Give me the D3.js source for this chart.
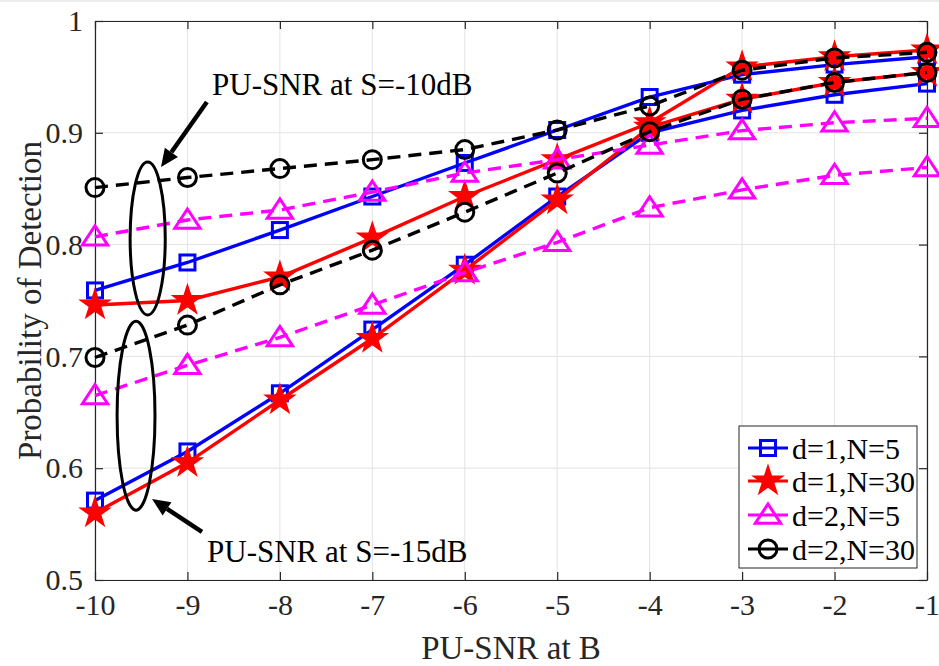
<!DOCTYPE html>
<html><head><meta charset="utf-8">
<script src="https://cdn.jsdelivr.net/npm/d3@7"></script>
<style>body{margin:0;background:#fff}svg{display:block}</style>
</head><body>
<script>
const xTicks = [-10,-9,-8,-7,-6,-5,-4,-3,-2,-1];
const yTicks = [0.5,0.6,0.7,0.8,0.9,1];
const yTickLabels = ["0.5","0.6","0.7","0.8","0.9","1"];
const snr = [-10,-9,-8,-7,-6,-5,-4,-3,-2,-1];
// S=-10dB (upper group)
const d1N5_S10  = [0.759,0.784,0.813,0.843,0.873,0.9025,0.932,0.952,0.961,0.968];
const d1N30_S10 = [0.746,0.750,0.771,0.806,0.843,0.876,0.909,0.959,0.968,0.974];
const d2N5_S10  = [0.807,0.822,0.831,0.847,0.864,0.876,0.889,0.902,0.909,0.913];
const d2N30_S10 = [0.851,0.860,0.868,0.876,0.885,0.9025,0.924,0.956,0.967,0.972];
// S=-15dB (lower group)
const d1N5_S15  = [0.571,0.615,0.667,0.724,0.782,0.843,0.900,0.920,0.934,0.944];
const d1N30_S15 = [0.560,0.605,0.661,0.716,0.777,0.840,0.905,0.930,0.945,0.954];
const d2N5_S15  = [0.665,0.692,0.717,0.746,0.775,0.802,0.833,0.849,0.862,0.869];
const d2N30_S15 = [0.699,0.728,0.764,0.795,0.829,0.864,0.901,0.930,0.945,0.954];
const seriesNames = ["d=1,N=5","d=1,N=30","d=2,N=5","d=2,N=30"];
const xLabel = "PU-SNR at B";
const yLabel = "Probability of Detection";
const annText = ["PU-SNR at S=-10dB","PU-SNR at S=-15dB"];

const W=939,H=666;
const m={left:95,right:939-927,top:21,bottom:666-580};
const svg=d3.select("body").append("svg").attr("width",W).attr("height",H)
  .style("font-family","'Liberation Serif','Times New Roman',serif");
svg.append("rect").attr("x",0).attr("y",0).attr("width",W).attr("height",2).attr("fill","#ececec");
const x=d3.scaleLinear().domain([-10,-1]).range([m.left,W-m.right]);
const y=d3.scaleLinear().domain([0.5,1]).range([H-m.bottom,m.top]);
const axCol="#262626";
const g=svg.append("g");
// grid
g.selectAll(".gx").data(xTicks).join("line").attr("x1",d=>x(d)).attr("x2",d=>x(d))
  .attr("y1",y(0.5)).attr("y2",y(1)).attr("stroke","#e3e3e3").attr("stroke-width",1);
g.selectAll(".gy").data(yTicks).join("line").attr("y1",d=>y(d)).attr("y2",d=>y(d))
  .attr("x1",x(-10)).attr("x2",x(-1)).attr("stroke","#e3e3e3").attr("stroke-width",1);

// axes
const fs=30;
const xb=svg.append("g").attr("transform",`translate(0,${y(0.5)})`)
  .call(d3.axisBottom(x).tickValues(xTicks).tickSize(-8).tickSizeOuter(0).tickPadding(14).tickFormat(d=>String(d)));
const xt=svg.append("g").attr("transform",`translate(0,${y(1)})`)
  .call(d3.axisTop(x).tickValues(xTicks).tickSize(-8).tickSizeOuter(0).tickFormat(""));
const yl=svg.append("g").attr("transform",`translate(${x(-10)},0)`)
  .call(d3.axisLeft(y).tickValues(yTicks).tickSize(-8).tickSizeOuter(0).tickPadding(12).tickFormat((d,i)=>yTickLabels[i]));
const yr=svg.append("g").attr("transform",`translate(${x(-1)},0)`)
  .call(d3.axisRight(y).tickValues(yTicks).tickSize(-8).tickSizeOuter(0).tickFormat(""));
[xb,xt,yl,yr].forEach(a=>{
  a.selectAll("path").attr("stroke",axCol).attr("stroke-width",1.2);
  a.selectAll("line").attr("stroke",axCol).attr("stroke-width",1.2);
  a.selectAll("text").attr("fill",axCol).style("font-size",fs+"px").style("font-family","'Liberation Serif',serif");
});
xb.selectAll("text").attr("dy","0.71em");

// series
const star=d3.symbol().type(d3.symbolStar).size(260);
const tri=(r)=>`M0,${-r*1.0}L${r*1.15},${r*0.75}L${-r*1.15},${r*0.75}Z`;
const styles=[
  {col:"#0000ff",dash:null,mk:"square"},
  {col:"#ff0000",dash:null,mk:"star"},
  {col:"#ff00ff",dash:"13,8",mk:"tri"},
  {col:"#000000",dash:"13,8",mk:"circle"}
];
const groups=[[d1N5_S10,d1N5_S15],[d1N30_S10,d1N30_S15],[d2N5_S10,d2N5_S15],[d2N30_S10,d2N30_S15]];
const line=d3.line().x((d,i)=>x(snr[i])).y(d=>y(d));
function drawMarker(sel,st){
  if(st.mk==="square"){
    sel.append("rect").attr("x",-7.5).attr("y",-7.5).attr("width",15).attr("height",15)
      .attr("fill","none").attr("stroke",st.col).attr("stroke-width",3);
  }else if(st.mk==="star"){
    sel.append("path").attr("d",star).attr("fill",st.col).attr("stroke",st.col).attr("stroke-width",1.5);
  }else if(st.mk==="tri"){
    sel.append("path").attr("d",tri(11)).attr("fill","none").attr("stroke",st.col).attr("stroke-width",3);
  }else{
    sel.append("circle").attr("r",9).attr("fill","none").attr("stroke",st.col).attr("stroke-width",3);
  }
}
groups.forEach((pair,k)=>{
  const st=styles[k];
  pair.forEach(vals=>{
    svg.append("path").datum(vals).attr("d",line).attr("fill","none")
      .attr("stroke",st.col).attr("stroke-width",3.4).attr("stroke-dasharray",st.dash);
    vals.forEach((v,i)=>{
      const mg=svg.append("g").attr("transform",`translate(${x(snr[i])},${y(v)})`);
      drawMarker(mg,st);
    });
  });
});

// annotations
const ellipses=[{cx:-9.43,cy:0.8055,rx:0.19,ry:0.0684},{cx:-9.556,cy:0.647,rx:0.205,ry:0.0845}];
ellipses.forEach(e=>{
  svg.append("ellipse").attr("cx",x(e.cx)).attr("cy",y(e.cy))
    .attr("rx",x(e.cx+e.rx)-x(e.cx)).attr("ry",y(e.cy-e.ry)-y(e.cy))
    .attr("fill","none").attr("stroke","#000").attr("stroke-width",3);
});
const arrows=[{x1:-8.79,y1:0.9275,x2:-9.286,y2:0.8694},{x1:-8.843,y1:0.543,x2:-9.383,y2:0.5725}];
arrows.forEach(a=>{
  const X1=x(a.x1),Y1=y(a.y1),X2=x(a.x2),Y2=y(a.y2);
  const ang=Math.atan2(Y2-Y1,X2-X1);
  const L=18,Wd=8;
  const bx=X2-L*Math.cos(ang),by=Y2-L*Math.sin(ang);
  svg.append("line").attr("x1",X1).attr("y1",Y1).attr("x2",bx).attr("y2",by)
    .attr("stroke","#000").attr("stroke-width",4.5);
  const px=-Math.sin(ang),py=Math.cos(ang);
  svg.append("path").attr("d",`M${X2},${Y2}L${bx+px*Wd},${by+py*Wd}L${bx-px*Wd},${by-py*Wd}Z`).attr("fill","#000");
});
const annPos=[{x:-8.734,y:0.9338},{x:-8.788,y:0.5161}];
annText.forEach((t,i)=>{
  svg.append("text").attr("x",x(annPos[i].x)).attr("y",y(annPos[i].y)).text(t)
    .attr("fill","#000").style("font-size","31px");
});

// axis labels
svg.append("text").attr("x",(x(-10)+x(-1))/2).attr("y",659).attr("text-anchor","middle")
  .attr("fill",axCol).style("font-size","33px").text(xLabel);
svg.append("text").attr("transform",`translate(41,${(y(0.5)+y(1))/2}) rotate(-90)`).attr("text-anchor","middle")
  .attr("fill",axCol).style("font-size","33px").text(yLabel);

// legend
const lg=svg.append("g");
lg.append("rect").attr("x",739).attr("y",426).attr("width",178).attr("height",142)
  .attr("fill","#fff").attr("stroke",axCol).attr("stroke-width",1);
const rowY=[448,481,515,549];
seriesNames.forEach((n,k)=>{
  const st=styles[k];
  lg.append("line").attr("x1",748).attr("x2",788).attr("y1",rowY[k]).attr("y2",rowY[k])
    .attr("stroke",st.col).attr("stroke-width",3);
  const mg=lg.append("g").attr("transform",`translate(768,${rowY[k]})`);
  drawMarker(mg,st);
  lg.append("text").attr("x",792).attr("y",rowY[k]).attr("dy","0.35em").text(n)
    .attr("fill","#000").style("font-size","30px");
});
</script>
</body></html>
